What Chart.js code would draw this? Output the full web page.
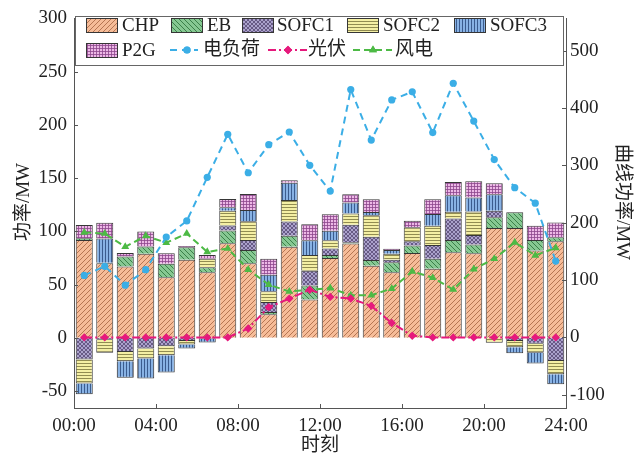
<!DOCTYPE html>
<html>
<head>
<meta charset="utf-8">
<script src="https://cdn.jsdelivr.net/npm/chart.js@4.4.1/dist/chart.umd.min.js"></script>
<style>
  html, body { margin: 0; padding: 0; background: #fff; }
  #c { display: block; }
</style>
</head>
<body>
<canvas id="c" width="636" height="462"></canvas>
<script>
// Hour slots (each bar covers one hour)
const hours = [0, 1, 2, 3, 4, 5, 6, 7, 8, 9, 10, 11, 12, 13, 14, 15, 16, 17, 18, 19, 20, 21, 22, 23];
const xTickLabels = ['00:00', '04:00', '08:00', '12:00', '16:00', '20:00', '24:00'];

// Unit outputs, MW (left axis)
const chp   = [91.9, 70.0, 66.9, 78.8, 56.9, 73.2, 61.6, 88.8, 70.0, 22.0, 85.5, 35.9, 74.9, 88.6, 67.7, 61.6, 79.7, 64.7, 80.3, 79.4, 103.1, 103.1, 81.9, 90.6];
const eb    = [1.6, 0.5, 9.4, 6.9, 12.5, 11.9, 4.7, 11.9, 12.5, 2.2, 10.3, 13.1, 2.8, 1.0, 5.3, 9.4, 6.9, 9.4, 11.5, 8.1, 10.0, 14.7, 10.0, 3.7];
const sofc1 = [-20.4, -2.0, -13.3, -10.1, -8.1, -3.0, -1.0, 4.7, 9.4, 9.4, 13.4, 14.0, 6.2, 16.5, 21.8, 2.2, 4.1, 13.1, 20.3, 9.0, 6.2, -3.0, -5.6, -21.8];
const sofc2 = [-22.5, -12.0, -8.7, -9.4, -8.4, -3.4, 7.8, 14.0, 17.5, 10.0, 20.3, 14.7, 7.8, 10.6, 20.3, 5.6, 13.1, 18.1, 6.2, 22.2, -4.7, -6.0, -8.4, -12.5];
const sofc3 = [-10.3, 22.8, -15.6, -18.7, -16.2, -3.7, -3.5, 3.1, 10.6, 15.6, 16.2, 14.0, 8.7, 10.3, 3.1, 3.7, 0, 10.9, 15.6, 13.1, 15.6, -5.6, -10.3, -9.4];
const p2g   = [12.5, 14.7, 3.4, 14.0, 10.0, 1.0, 3.7, 7.8, 15.0, 15.0, 2.2, 15.0, 15.6, 7.8, 11.9, 1.0, 6.2, 14.0, 12.5, 15.3, 10.3, 0, 13.4, 14.0];

// Profiles, MW (right axis)
const elecLoad = [108, 124, 91, 118, 175, 203, 279, 354, 287, 336, 358, 300, 255, 432, 344, 414, 428, 357, 443, 377, 310, 261, 234, 133];
const pvPower  = [0, 0, 0, 0, 0, 0, 0, 0, 15.6, 52.8, 67.7, 83.2, 70.6, 67.8, 55.0, 25.2, 3.0, 0, 0, 0, 0, 0, 0, 0];
const windPower = [183, 181, 158, 177, 165, 181, 149, 155, 118, 92, 80, 83, 86, 73.5, 73.5, 85, 115, 104, 83.5, 119, 137, 165.5, 143, 156];

const FONT = "'Liberation Serif', 'Noto Sans CJK SC', serif";
const AXIS = '#555';
const TEXT = '#222';
const EDGE = '#363636';

// Fill patterns for the unit bars
function makePattern(bg, ink, kind) {
  const s = kind === 'fwd' || kind === 'back' ? 5 : (kind === 'cross' ? 4 : 3);
  const c = document.createElement('canvas');
  c.width = s; c.height = s;
  const g = c.getContext('2d');
  g.fillStyle = bg;
  g.fillRect(0, 0, s, s);
  g.strokeStyle = ink;
  g.lineWidth = 1;
  g.beginPath();
  if (kind === 'fwd') {
    g.moveTo(0, s); g.lineTo(s, 0);
    g.moveTo(-1, 1); g.lineTo(1, -1);
    g.moveTo(s - 1, s + 1); g.lineTo(s + 1, s - 1);
  } else if (kind === 'back') {
    g.moveTo(0, 0); g.lineTo(s, s);
    g.moveTo(-1, s - 1); g.lineTo(1, s + 1);
    g.moveTo(s - 1, -1); g.lineTo(s + 1, 1);
  } else if (kind === 'cross') {
    g.moveTo(0, 0); g.lineTo(s, s);
    g.moveTo(0, s); g.lineTo(s, 0);
  } else if (kind === 'horiz') {
    g.moveTo(0, 0.5); g.lineTo(s, 0.5);
  } else if (kind === 'vert') {
    g.moveTo(0.5, 0); g.lineTo(0.5, s);
  } else if (kind === 'grid') {
    g.moveTo(0, 0.5); g.lineTo(s, 0.5);
    g.moveTo(0.5, 0); g.lineTo(0.5, s);
  }
  g.stroke();
  return g.createPattern(c, 'repeat');
}

const barStyles = {
  CHP:   makePattern('#F6BC98', 'rgba(160,95,60,0.75)', 'fwd'),
  EB:    makePattern('#86C892', 'rgba(40,110,55,0.8)', 'back'),
  SOFC1: makePattern('#ABA2CC', 'rgba(80,65,110,0.75)', 'cross'),
  SOFC2: makePattern('#F4EFA4', 'rgba(120,115,60,0.8)', 'horiz'),
  SOFC3: makePattern('#88B2E4', 'rgba(40,70,120,0.8)', 'vert'),
  P2G:   makePattern('#EDB8E6', 'rgba(140,70,140,0.8)', 'grid')
};

const lineStyles = {
  load: { color: '#3BAEE6', dash: [7, 5], point: 'circle', radius: 3.6 },
  pv:   { color: '#E6197C', dash: [8, 3, 2, 3], point: 'rectRot', radius: 4.2 },
  wind: { color: '#4DBA45', dash: [7, 4], point: 'triangle', radius: 4.6 }
};

function pts(values) {
  return values.map((v, i) => ({ x: hours[i] + 0.5, y: v }));
}

function barSet(label, values) {
  return {
    type: 'bar', label, data: pts(values), yAxisID: 'y',
    backgroundColor: barStyles[label], borderColor: EDGE, borderWidth: 1,
    barPercentage: 0.83, categoryPercentage: 1, order: 2
  };
}

function lineSet(label, values, st) {
  return {
    type: 'line', label, data: pts(values), yAxisID: 'y1',
    borderColor: st.color, backgroundColor: st.color, borderWidth: 2,
    borderDash: st.dash, pointStyle: st.point, pointRadius: st.radius,
    pointBorderWidth: 0, pointBackgroundColor: st.color, tension: 0, order: 1
  };
}

const datasets = [
  barSet('CHP', chp),
  barSet('EB', eb),
  barSet('SOFC1', sofc1),
  barSet('SOFC2', sofc2),
  barSet('SOFC3', sofc3),
  barSet('P2G', p2g),
  lineSet('电负荷', elecLoad, lineStyles.load),
  lineSet('光伏', pvPower, lineStyles.pv),
  lineSet('风电', windPower, lineStyles.wind)
];

// Inward tick marks, axis titles and the boxed legend
const decor = {
  id: 'decor',
  afterDraw(chart) {
    const { ctx, chartArea: a, scales } = chart;
    ctx.save();
    ctx.strokeStyle = AXIS;
    ctx.lineWidth = 1;
    ctx.beginPath();
    scales.y.ticks.forEach(t => {
      const py = Math.round(scales.y.getPixelForValue(t.value)) + 0.5;
      ctx.moveTo(a.left, py); ctx.lineTo(a.left + 4, py);
    });
    scales.y1.ticks.forEach(t => {
      const py = Math.round(scales.y1.getPixelForValue(t.value)) + 0.5;
      ctx.moveTo(a.right, py); ctx.lineTo(a.right - 4, py);
    });
    scales.x.ticks.forEach(t => {
      const px = Math.round(scales.x.getPixelForValue(t.value)) + 0.5;
      ctx.moveTo(px, a.bottom); ctx.lineTo(px, a.bottom - 4);
    });
    ctx.stroke();

    // axis titles
    ctx.fillStyle = TEXT;
    ctx.font = '19px ' + FONT;
    ctx.textAlign = 'center';
    ctx.textBaseline = 'middle';
    ctx.fillText('时刻', (a.left + a.right) / 2, 446);
    ctx.save();
    ctx.translate(24, 202);
    ctx.rotate(-Math.PI / 2);
    ctx.fillText('功率/MW', 0, 0);
    ctx.restore();
    ctx.save();
    ctx.translate(622, 202);
    ctx.rotate(Math.PI / 2);
    ctx.fillText('曲线功率/MW', 0, 0);
    ctx.restore();

    // legend
    ctx.fillStyle = '#fff';
    ctx.fillRect(76, 17, 487, 48);
    ctx.strokeStyle = '#666';
    ctx.strokeRect(75.5, 16.5, 488, 49);
    const rows = [25, 50];
    const patches = [
      { label: 'CHP', x: 86, row: 0, tx: 122 },
      { label: 'EB', x: 171, row: 0, tx: 207 },
      { label: 'SOFC1', x: 242, row: 0, tx: 277 },
      { label: 'SOFC2', x: 347, row: 0, tx: 383 },
      { label: 'SOFC3', x: 454, row: 0, tx: 490 },
      { label: 'P2G', x: 86, row: 1, tx: 122 }
    ];
    ctx.font = '19px ' + FONT;
    ctx.textAlign = 'left';
    ctx.textBaseline = 'middle';
    patches.forEach(p => {
      const cy = rows[p.row];
      ctx.fillStyle = barStyles[p.label];
      ctx.fillRect(p.x, cy - 7, 31, 14);
      ctx.strokeStyle = EDGE;
      ctx.strokeRect(p.x + 0.5, cy - 6.5, 31, 14);
      ctx.fillStyle = TEXT;
      ctx.fillText(p.label, p.tx, cy + 1);
    });
    const lines = [
      { label: '电负荷', st: lineStyles.load, x0: 170, x1: 198, mx: 187, tx: 203 },
      { label: '光伏', st: lineStyles.pv, x0: 268, x1: 307, mx: 288, tx: 308 },
      { label: '风电', st: lineStyles.wind, x0: 353, x1: 392, mx: 373, tx: 395 }
    ];
    lines.forEach(l => {
      const cy = rows[1];
      ctx.strokeStyle = l.st.color;
      ctx.lineWidth = 2;
      ctx.setLineDash(l.st.dash);
      ctx.beginPath();
      ctx.moveTo(l.x0, cy); ctx.lineTo(l.x1, cy);
      ctx.stroke();
      ctx.setLineDash([]);
      ctx.fillStyle = l.st.color;
      Chart.helpers.drawPoint(ctx, { pointStyle: l.st.point, radius: l.st.radius, borderWidth: 0 }, l.mx, cy);
      ctx.fill();
      ctx.fillStyle = TEXT;
      ctx.fillText(l.label, l.tx, cy);
    });
    ctx.restore();
  }
};

new Chart(document.getElementById('c'), {
  data: { datasets },
  options: {
    responsive: false,
    animation: false,
    devicePixelRatio: 1,
    layout: { padding: { left: 0, right: 0, top: 17, bottom: 0 } },
    plugins: { legend: { display: false }, tooltip: { enabled: false } },
    font: { family: FONT },
    scales: {
      x: {
        type: 'linear', min: 0, max: 24, offset: false, stacked: true,
        grid: { display: false, drawTicks: false, offset: false },
        border: { display: true, color: AXIS, width: 1 },
        ticks: {
          stepSize: 4, padding: 7, color: TEXT, maxRotation: 0, autoSkip: false,
          font: { family: FONT, size: 19 },
          callback: (v) => xTickLabels[Math.round(v / 4)]
        },
        afterFit: s => { s.height = 54; }
      },
      y: {
        type: 'linear', position: 'left', min: -66, max: 300, stacked: true,
        grid: { display: false, drawTicks: false },
        border: { display: true, color: AXIS, width: 1 },
        ticks: { stepSize: 50, includeBounds: false, padding: 7, color: TEXT, font: { family: FONT, size: 19 } },
        afterFit: s => { s.width = 74; }
      },
      y1: {
        type: 'linear', position: 'right', min: -123, max: 556, stacked: false,
        grid: { display: false, drawTicks: false },
        border: { display: true, color: AXIS, width: 1 },
        ticks: { stepSize: 100, includeBounds: false, padding: 4, color: TEXT, font: { family: FONT, size: 19 } },
        afterFit: s => { s.width = 70; }
      }
    }
  },
  plugins: [decor]
});
</script>
</body>
</html>
